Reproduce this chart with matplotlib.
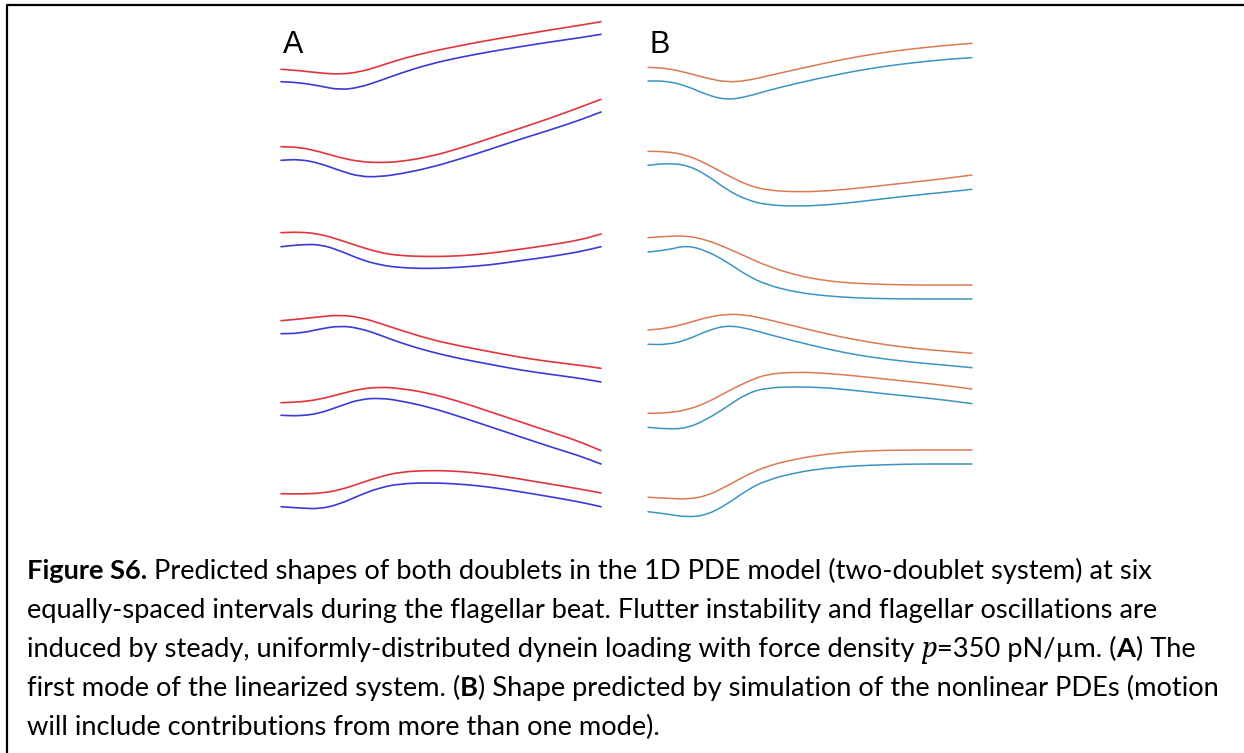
import matplotlib
matplotlib.use("Agg")
import matplotlib.pyplot as plt
from matplotlib.path import Path
from matplotlib.patches import PathPatch

# shared x positions (image pixels) for the two panels
xa = [281, 300, 320, 340, 360, 380, 400, 430, 460, 490, 520, 550, 580, 601]
xb = [648, 667, 687, 707, 727, 747, 767, 797, 827, 857, 887, 917, 947, 972]

# panel A: first mode of the linearized system (red / blue doublets)
a_red = [
    [69.3, 70.7, 73, 74.3, 72, 66, 59.3, 51.7, 45.7, 40, 35, 30, 25.3, 21.7],
    [146.7, 147.3, 151.7, 157.7, 161.7, 162.7, 161.7, 156.7, 148.3, 138.3, 128.3, 118.3, 107.3, 99.3],
    [232.7, 232, 234, 240, 246.7, 252.7, 255.7, 256.7, 256, 253.3, 249.3, 245, 240, 234],
    [320.7, 319, 316.7, 315, 317.3, 323.3, 330, 339.3, 346, 351.7, 357.3, 361.7, 365.3, 368.3],
    [402.7, 402, 399.3, 394, 389, 387, 388.3, 393.3, 401.7, 411.7, 421.7, 431.7, 441.7, 450.7],
    [493.7, 494, 493.3, 490, 483.3, 476.7, 472, 470.3, 471.3, 474.3, 479, 484, 489, 493],
]
a_blue = [
    [81.7, 82.7, 86, 90, 87.3, 80.7, 73.3, 64, 57.3, 51.7, 46.7, 42, 37.7, 34.3],
    [160.3, 159.3, 163.3, 170.7, 176.7, 176.7, 174, 167.7, 159, 149.3, 139.3, 130, 120, 112],
    [246.7, 244.7, 244.3, 250.7, 259.3, 265, 267.7, 268.7, 267.3, 265, 260.7, 256.7, 251.7, 246.7],
    [333.7, 333.3, 329, 325.7, 328.3, 335, 342.7, 351.7, 358.7, 364.3, 370, 374.3, 378.3, 382],
    [415.3, 416, 413.3, 406, 399.3, 398, 400.7, 407.3, 416.7, 426.7, 436.7, 446.7, 456, 464],
    [506.7, 508, 509, 504, 495, 487.7, 483.7, 482.7, 484, 487, 491.7, 496.7, 502, 506.7],
]

# panel B: nonlinear PDE simulation (orange / teal doublets)
b_orange = [
    [67.3, 68.3, 72.7, 78.3, 82.3, 80.7, 76, 69.3, 62.7, 56.7, 52, 48.3, 45.3, 43.3],
    [151.3, 151.7, 155, 164, 175, 185, 190.3, 192, 191, 188.3, 185, 181.7, 178.3, 175],
    [237.7, 236.3, 235.7, 240, 248, 257, 266, 275.5, 281, 283.5, 284.5, 285, 285, 285],
    [330, 328.3, 323.3, 317.3, 314, 315, 319.3, 326.7, 334, 340, 345, 348.7, 351.3, 353.3],
    [413.3, 413, 410, 402.7, 391.7, 381.7, 374, 372, 373.3, 376, 379.3, 382.3, 385.7, 389],
    [497.3, 498.3, 499.3, 496, 486, 475, 466, 458.7, 454, 451.3, 450.3, 450, 450, 450],
]
b_teal = [
    [81, 81, 86, 95, 100, 96.7, 90.7, 83.3, 76.7, 70.7, 66, 62.3, 59.3, 57.7],
    [165.3, 163.3, 165, 175, 190, 200, 205, 206.3, 205, 202, 198.3, 195, 192, 189.3],
    [252, 250, 245.3, 251, 262, 275.5, 285, 292.5, 296, 298, 298.7, 299, 299, 299],
    [344.3, 344.7, 340, 330.7, 325.3, 328.3, 334, 341.7, 349, 355, 359.3, 362.7, 365.3, 367.7],
    [427.3, 429, 428.3, 419.3, 406.7, 393.3, 387.7, 386.7, 387.7, 390.7, 394, 397, 400.3, 403.7],
    [511.7, 514, 517.3, 515, 504.3, 490, 480, 472.3, 468, 465.7, 464.7, 464, 464, 464],
]

caption = [
    [("Figure S6.", "bold", "normal"),
     (" Predicted shapes of both doublets in the 1D PDE model (two-doublet system) at six", "normal", "normal")],
    [("equally-spaced intervals during the flagellar beat. Flutter instability and flagellar oscillations are",
      "normal", "normal")],
    [("induced by steady, uniformly-distributed dynein loading with force density ", "normal", "normal"),
     ("p", "normal", "italic"), ("=350 pN/\u00b5m. (", "normal", "normal"), ("A", "bold", "normal"),
     (") The", "normal", "normal")],
    [("first mode of the linearized system. (", "normal", "normal"), ("B", "bold", "normal"),
     (") Shape predicted by simulation of the nonlinear PDEs (motion", "normal", "normal")],
    [("will include contributions from more than one mode).", "normal", "normal")],
]
baselines = [579, 618, 657, 696, 735]
right_ends = [None, 1198, 1196, 1224, 640]   # where lines 2-5 end in the reference
text_x = 27
max_right = 1232


def smooth_line(ax, xs, ys, color, lw):
    # quadratic bezier through segment midpoints, data points act as control points
    pts = list(zip(xs, ys))
    mid = lambda p, q: ((p[0] + q[0]) / 2, (p[1] + q[1]) / 2)
    verts = [pts[0], mid(pts[0], pts[1])]
    codes = [Path.MOVETO, Path.LINETO]
    for i in range(1, len(pts) - 1):
        verts += [pts[i], mid(pts[i], pts[i + 1])]
        codes += [Path.CURVE3, Path.CURVE3]
    verts.append(pts[-1])
    codes.append(Path.LINETO)
    ax.add_patch(PathPatch(Path(verts, codes), fill=False, edgecolor=color, lw=lw,
                           capstyle="round", joinstyle="round"))


def draw_segments(ax, x, y, segs, size, renderer):
    for s, weight, style in segs:
        fam = ["Noto Serif", "DejaVu Serif"] if style == "italic" else ["Lato", "DejaVu Sans"]
        t = ax.text(x, y, s, fontsize=size, fontweight=weight, fontstyle=style,
                    family=fam, va="baseline", ha="left", color="black")
        bb = t.get_window_extent(renderer=renderer)
        x = ax.transData.inverted().transform((bb.x1, bb.y0))[0]
    return x


def main():
    fig = plt.figure(figsize=(12.44, 7.53), dpi=100)
    ax = fig.add_axes([0, 0, 1, 1])
    ax.set_xlim(0, 1244)
    ax.set_ylim(753, 0)
    ax.axis("off")

    # frame (top and left edges only are visible)
    ax.plot([7, 7, 1244], [753, 5, 5], color="black", lw=1.6, solid_capstyle="butt")

    for r, b in zip(a_red, a_blue):
        smooth_line(ax, xa, r, "#e3343c", 1.2)
        smooth_line(ax, xa, b, "#3a3ad6", 1.2)
    for o, t in zip(b_orange, b_teal):
        smooth_line(ax, xb, o, "#d97a52", 1.1)
        smooth_line(ax, xb, t, "#3d94c2", 1.1)

    ax.text(283, 53, "A", fontsize=22, family="Liberation Sans", va="baseline")
    ax.text(649, 53, "B", fontsize=22, family="Liberation Sans", va="baseline")

    renderer = fig.canvas.get_renderer()
    # one caption size: average fit of lines 2-5, but no line may run past max_right
    fits, caps = [], []
    for segs, end in zip(caption, right_ends):
        probe = ax.text(0, 0, "".join(s for s, _, _ in segs), fontsize=10, family="Lato")
        w = probe.get_window_extent(renderer=renderer).width
        probe.remove()
        caps.append(10 * (max_right - text_x) / w)
        if end is not None:
            fits.append(10 * (end - text_x) / w)
    size = min(sum(fits) / len(fits), min(caps))
    for segs, yb in zip(caption, baselines):
        draw_segments(ax, text_x, yb, segs, size, renderer)

    fig.savefig("out.png", dpi=100)
    plt.close(fig)


if __name__ == "__main__":
    main()
